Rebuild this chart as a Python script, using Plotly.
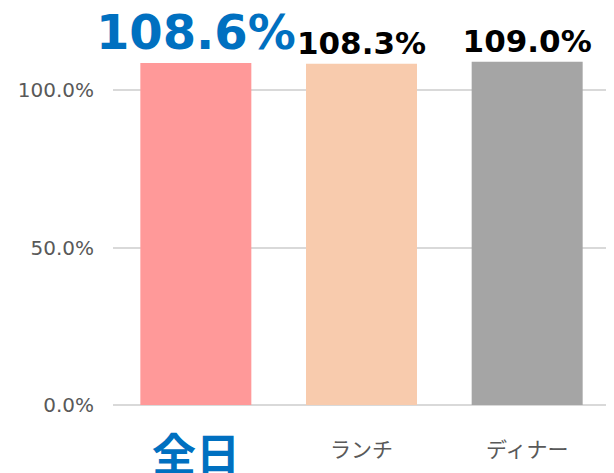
import plotly.graph_objects as go

categories = ["全日", "ランチ", "ディナー"]
values = [1.086, 1.083, 1.090]
bar_colors = ["#FF9999", "#F8CBAD", "#A5A5A5"]
label_colors = ["#0070C0", "#000000", "#000000"]
label_sizes = [48, 31, 31]
cat_colors = ["#0070C0", "#595959", "#595959"]
cat_sizes = [44, 21, 21]
cat_bold = [True, False, False]
cat_shift = [0, 4, 4]
y_ticks = [0, 0.5, 1.0]

fig = go.Figure()
fig.add_trace(go.Bar(
    x=categories, y=values,
    marker=dict(color=bar_colors, line=dict(width=0)),
    text=[f"<b>{v*100:.1f}%</b>" for v in values],
    textposition="outside",
    textfont=dict(color=label_colors, size=label_sizes, family="DejaVu Sans"),
    constraintext="none",
    cliponaxis=False,
    hoverinfo="skip",
))

for c, col, sz, b, sh in zip(categories, cat_colors, cat_sizes, cat_bold, cat_shift):
    fig.add_annotation(
        x=c, xref="x", y=-0.125, yref="paper", yshift=sh,
        text=f"<b>{c}</b>" if b else c,
        showarrow=False, yanchor="middle", xanchor="center",
        font=dict(color=col, size=sz, family="Noto Sans CJK JP"),
    )

fig.update_layout(
    width=606, height=465,
    margin=dict(l=105, r=4, t=19, b=68),
    paper_bgcolor="white", plot_bgcolor="white",
    bargap=0.33,
    showlegend=False,
    font=dict(family="DejaVu Sans", color="#595959"),
)
fig.update_xaxes(showticklabels=False, showline=False, showgrid=False, zeroline=False)
fig.update_yaxes(
    range=[0, 1.2], tickvals=y_ticks, tickformat=".1%",
    showgrid=True, gridcolor="#D9D9D9", gridwidth=1.5,
    zeroline=True, zerolinecolor="#D9D9D9", zerolinewidth=1.5,
    showline=False,
    tickfont=dict(size=20, color="#595959", family="DejaVu Sans"),
    ticklabelstandoff=18,
)

fig.write_html("out.html")
